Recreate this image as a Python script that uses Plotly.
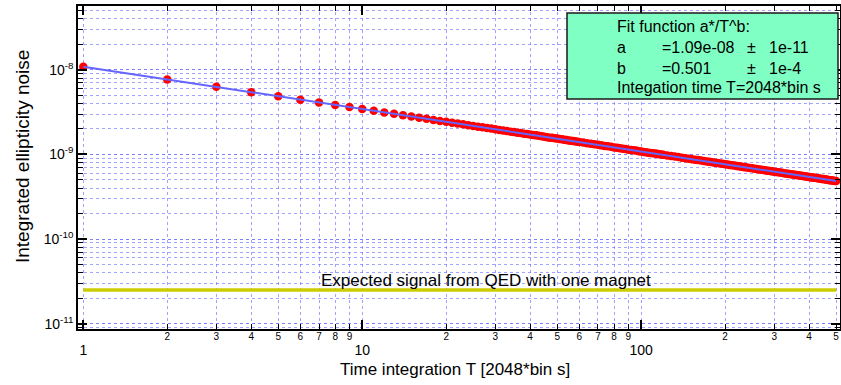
import plotly.graph_objects as go

# ---------------- data ----------------
NOISE_T = list(range(1, 61)) + list(range(62, 121, 2)) + list(range(124, 241, 4)) + list(range(245, 501, 5))
NOISE_E10 = [  # integrated ellipticity noise, units of 1e-10
    109, 77.0, 62.9, 54.4, 48.7, 44.4, 41.1, 38.5, 36.3, 34.4,
    32.8, 31.4, 30.2, 29.1, 28.1, 27.2, 26.4, 25.6, 24.9, 24.3,
    23.7, 23.2, 22.7, 22.2, 21.7, 21.3, 20.9, 20.5, 20.2, 19.8,
    19.5, 19.2, 18.9, 18.6, 18.4, 18.1, 17.9, 17.6, 17.4, 17.2,
    17.0, 16.8, 16.6, 16.4, 16.2, 16.0, 15.8, 15.7, 15.5, 15.4,
    15.2, 15.1, 14.9, 14.8, 14.6, 14.5, 14.4, 14.3, 14.1, 14.0,
    13.8, 13.6, 13.4, 13.2, 13.0, 12.8, 12.6, 12.5, 12.3, 12.1,
    12.0, 11.8, 11.7, 11.6, 11.4, 11.3, 11.2, 11.1, 10.9, 10.85,
    10.7, 10.6, 10.5, 10.4, 10.3, 10.25, 10.16, 10.07, 9.98, 9.90,
    9.74, 9.59, 9.44, 9.30, 9.17, 9.04, 8.92, 8.80, 8.68, 8.57,
    8.47, 8.37, 8.27, 8.18, 8.08, 8.00, 7.91, 7.83, 7.75, 7.67,
    7.59, 7.52, 7.45, 7.38, 7.31, 7.25, 7.18, 7.12, 7.06, 7.00,
    6.93, 6.86, 6.79, 6.72, 6.66, 6.60, 6.54, 6.48, 6.42, 6.37,
    6.31, 6.26, 6.21, 6.16, 6.11, 6.06, 6.01, 5.97, 5.92, 5.88,
    5.84, 5.80, 5.76, 5.71, 5.67, 5.63, 5.60, 5.56, 5.52, 5.49,
    5.45, 5.42, 5.38, 5.35, 5.32, 5.29, 5.26, 5.23, 5.19, 5.16,
    5.14, 5.11, 5.08, 5.05, 5.02, 5.00, 4.97, 4.94, 4.92, 4.89,
    4.87, 4.84,
]
FIT_T = [1, 500]
FIT_Y = [1.09e-8, 4.84e-10]
QED_T = [1, 500]
QED_Y = [2.5e-11, 2.5e-11]

X_MAJOR = [1, 10, 100]
X_MAJOR_TEXT = ["1", "10", "100"]
X_MINOR = [2, 3, 4, 5, 6, 7, 8, 9, 20, 30, 40, 50, 60, 70, 80, 90, 200, 300, 400, 500]
X_MINOR_TEXT = ["2", "3", "4", "5", "6", "7", "8", "9"] * 2 + ["2", "3", "4", "5"]
Y_MAJOR = [1e-11, 1e-10, 1e-9, 1e-8]
Y_MAJOR_TEXT = ["10<sup>-11</sup>", "10<sup>-10</sup>", "10<sup>-9</sup>", "10<sup>-8</sup>"]

BOX_LINES = [
    ["Fit function a*/T^b:", "", "", ""],
    ["a", "=1.09e-08", "±", "1e-11"],
    ["b", "=0.501", "±", "1e-4"],
    ["Integation time T=2048*bin s", "", "", ""],
]

FONT = "Liberation Sans, Arial, Helvetica, sans-serif"
GRID = "rgba(100,100,255,0.6)"

# plot area in pixels
L, R, T, B = 78, 840, 6, 329
W, H = 841, 385
def px(x):
    return (x - L) / (R - L)
def py(y):
    return (B - y) / (B - T)

noise = [v * 1e-10 for v in NOISE_E10]

fig = go.Figure()
fig.add_trace(go.Scatter(x=QED_T, y=QED_Y, mode="lines",
                         line=dict(color="#cccc00", width=3.5), hoverinfo="skip"))
fig.add_trace(go.Scatter(x=NOISE_T, y=noise, mode="markers",
                         marker=dict(color="#ff0000", size=8.5, line=dict(width=0))))
fig.add_trace(go.Scatter(x=FIT_T, y=FIT_Y, mode="lines",
                         line=dict(color="#6464ff", width=2)))
# invisible trace on the label axis
fig.add_trace(go.Scatter(x=[1], y=[1e-9], xaxis="x2", mode="markers",
                         marker=dict(opacity=0), hoverinfo="skip"))

xr = [-0.019, 2.713]
yr = [-11.0626, -7.246]

fig.update_layout(
    width=W, height=H,
    margin=dict(l=L, r=W - R, t=T, b=H - B, pad=0, autoexpand=False),
    paper_bgcolor="white", plot_bgcolor="white",
    showlegend=False,
    font=dict(family=FONT, color="black"),
    xaxis=dict(
        type="log", range=xr, automargin=False,
        tickvals=X_MAJOR, ticktext=X_MAJOR_TEXT,
        tickfont=dict(size=14), ticklabelstandoff=7,
        ticks="inside", ticklen=9, tickwidth=1.5, tickcolor="black",
        showline=True, linecolor="black", linewidth=1.5, mirror="ticks",
        showgrid=True, gridcolor=GRID, griddash="dot", gridwidth=1,
        zeroline=False,
        minor=dict(tickvals=X_MINOR, ticks="inside", ticklen=5, tickwidth=1.2,
                   tickcolor="black", showgrid=True, gridcolor=GRID,
                   griddash="dot", gridwidth=1),
    ),
    xaxis2=dict(
        type="log", range=xr, overlaying="x", anchor="y", side="bottom",
        automargin=False,
        tickvals=X_MINOR, ticktext=X_MINOR_TEXT, tickfont=dict(size=10),
        ticks="", showline=False, showgrid=False, zeroline=False,
    ),
    yaxis=dict(
        type="log", range=yr, automargin=False,
        tickvals=Y_MAJOR, ticktext=Y_MAJOR_TEXT, tickfont=dict(size=14),
        ticks="inside", ticklen=9, tickwidth=1.5, tickcolor="black",
        showline=True, linecolor="black", linewidth=1.5, mirror="ticks",
        showgrid=True, gridcolor=GRID, griddash="dot", gridwidth=1,
        zeroline=False,
        minor=dict(dtick="D1", ticks="inside", ticklen=5, tickwidth=1.2,
                   tickcolor="black", showgrid=True, gridcolor=GRID,
                   griddash="dot", gridwidth=1),
    ),
)

# fit-result box
fig.add_shape(type="rect", xref="paper", yref="paper",
              x0=px(567), x1=px(838), y0=py(99), y1=py(13),
              fillcolor="#80ffc4", line=dict(color="#1a1a1a", width=1.5), layer="above")
row_y = [27, 48, 68, 87]
col_x = [615, 660, 745, 767]
for r, row in enumerate(BOX_LINES):
    for c, txt in enumerate(row):
        if not txt:
            continue
        fig.add_annotation(xref="paper", yref="paper", x=px(col_x[c]), y=py(row_y[r]),
                           text=txt, showarrow=False, xanchor="left", yanchor="middle",
                           font=dict(size=16, family=FONT, color="black"))

fig.add_annotation(xref="paper", yref="paper", x=px(319), y=py(280),
                   text="Expected signal from QED with one magnet", showarrow=False,
                   xanchor="left", yanchor="middle", font=dict(size=17, family=FONT))
fig.add_annotation(xref="paper", yref="paper", x=px(455), y=py(369),
                   text="Time integration T [2048*bin s]", showarrow=False,
                   xanchor="center", yanchor="middle", font=dict(size=17, family=FONT))
fig.add_annotation(xref="paper", yref="paper", x=px(22), y=py(157),
                   text="Integrated ellipticity noise", showarrow=False, textangle=-90,
                   xanchor="center", yanchor="middle", font=dict(size=19, family=FONT))

fig.write_html("out.html", config={"displayModeBar": False},
               post_script="document.body.style.margin='0';document.body.style.padding='0';")
